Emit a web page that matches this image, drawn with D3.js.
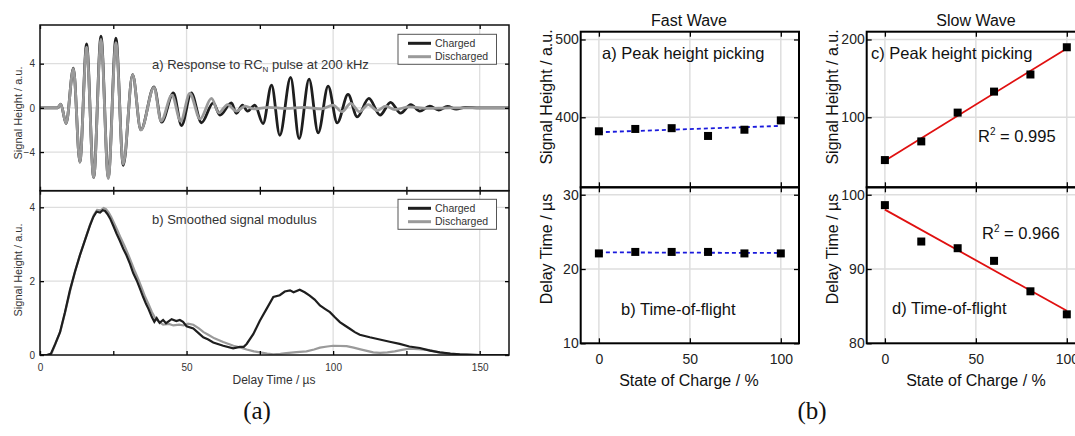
<!DOCTYPE html>
<html>
<head>
<meta charset="utf-8">
<script src="https://cdn.jsdelivr.net/npm/d3@7"></script>
<style>
  body { margin: 0; background: #fff; }
  svg { display: block; font-family: "Liberation Sans", Arial, sans-serif; }
</style>
</head>
<body>
<svg id="chart" width="1075" height="436"></svg>
<script>
// ---- data ----
// (a) top: raw response, extrema [time µs, signal]
const chargedWave = [[0,0],[6,0],[7.1,0.34],[8.9,-1.42],[11.4,3.6],[13.6,-4.9],[15.9,5.8],[18.3,-6.3],[20.8,6.5],[23.3,-6.3],[25.9,6.3],[28.4,-5.2],[31.6,3.0],[34.4,-2.0],[38.9,1.9],[41.5,-1.3],[45.5,1.35],[48.3,-1.6],[51.6,1.35],[55.1,-1.35],[59.1,0.45],[61.4,-0.65],[65.3,0.45],[67.0,-0.5],[69.1,0.25],[70.8,-0.3],[73.3,0.25],[76.1,-1.42],[79.0,2.06],[81.8,-2.48],[85.5,2.76],[88.4,-2.78],[91.8,2.6],[94.9,-2.27],[98.3,1.97],[101.4,-1.36],[105.1,1.22],[108.2,-0.82],[112.2,0.85],[116.0,-0.66],[119.6,0.5],[123.0,-0.48],[126.5,0.3],[129.6,-0.3],[133,0.15],[136,-0.2],[139,0.12],[142,-0.12],[145,0.05],[150,0],[160,0]];
const dischargedWave = [[0,0],[6,0],[7.1,0.34],[8.9,-1.42],[11.4,3.55],[13.6,-4.9],[15.9,5.5],[18.3,-6.3],[20.8,6.2],[23.3,-6.4],[25.9,5.9],[28.4,-5.1],[31.6,3.0],[34.4,-2.0],[38.9,1.85],[41.3,-1.2],[45.0,1.15],[48.0,-1.2],[51.1,1.3],[54.6,-1.0],[58.5,0.85],[61.0,-0.45],[64.0,0.3],[67.0,-0.3],[70.0,0.15],[73.0,-0.1],[78,0.05],[84,-0.05],[90,0.05],[96,-0.1],[100,0.25],[103,-0.35],[106,0.4],[109,-0.35],[112,0.3],[115,-0.25],[118,0.15],[121,-0.15],[126,0.08],[132,-0.05],[140,0],[160,0]];

// (a) bottom: smoothed modulus [time µs, signal]
const chargedEnvelope = [[0,0],[2.3,0],[3.7,0.03],[5.2,0.3],[6.8,0.61],[8.5,1.15],[10.2,1.75],[11.9,2.25],[13.6,2.7],[15.9,3.24],[17,3.5],[18.2,3.74],[19.3,3.88],[20.5,3.86],[21.4,3.92],[22.2,3.9],[23.0,3.82],[23.9,3.7],[25,3.5],[26.1,3.29],[27.2,3.1],[28.4,2.88],[29.5,2.7],[30.7,2.47],[31.8,2.22],[33.0,2.02],[34.1,1.8],[35.2,1.57],[36.2,1.38],[37.0,1.25],[38.2,1.02],[39.0,0.9],[39.8,1.0],[40.8,0.87],[42.0,0.95],[43.0,0.86],[44.9,0.97],[46.5,0.92],[47.7,0.95],[48.8,0.9],[50,0.78],[52.3,0.72],[54,0.6],[55.7,0.48],[57.4,0.42],[59.1,0.34],[62.5,0.25],[65.9,0.18],[68.2,0.22],[69.5,0.22],[70.5,0.3],[72.8,0.57],[75,0.93],[77.3,1.25],[79.6,1.57],[81.8,1.62],[83.5,1.72],[85.3,1.75],[86.5,1.7],[88.6,1.77],[90.3,1.7],[92.0,1.61],[93.7,1.5],[95.5,1.34],[97.2,1.25],[98.9,1.16],[100.6,1.02],[102.3,0.89],[104,0.8],[105.7,0.71],[107.4,0.62],[109.1,0.55],[112.5,0.48],[115.9,0.42],[119.3,0.36],[122.7,0.3],[126,0.23],[129.6,0.19],[133,0.12],[136.4,0.07],[140,0.04],[143.2,0.02],[150,0],[160,0]];
const dischargedEnvelope = [[0,0],[2.6,0],[4,0.05],[5.4,0.33],[7,0.65],[8.7,1.2],[10.4,1.78],[12.1,2.3],[13.8,2.75],[16.1,3.3],[17.2,3.56],[18.4,3.8],[19.5,3.93],[20.7,3.92],[21.7,3.98],[22.5,3.95],[23.4,3.86],[24.3,3.74],[25.4,3.55],[26.5,3.36],[27.6,3.16],[28.8,2.96],[30,2.74],[31.2,2.5],[32.4,2.26],[33.6,2.04],[34.8,1.8],[35.9,1.57],[37,1.38],[38.2,1.16],[39.3,1.0],[40.5,0.9],[42,0.82],[44,0.84],[45.5,0.8],[47.5,0.82],[49,0.8],[50.5,0.85],[52.3,0.82],[54.2,0.72],[55.8,0.62],[57.4,0.55],[59.5,0.45],[62.5,0.35],[66,0.25],[68.5,0.2],[70.5,0.15],[73,0.1],[75,0.07],[77.5,0.04],[79.6,0.02],[82,0.03],[84,0.05],[87.5,0.08],[90.9,0.1],[93.5,0.15],[95.5,0.2],[98,0.23],[100,0.25],[104.6,0.24],[107,0.2],[109,0.16],[111.5,0.11],[113.7,0.07],[116,0.06],[118.5,0.07],[121,0.1],[123.5,0.14],[126,0.17],[129,0.16],[133,0.13],[136,0.07],[140,0.03],[143,0.02],[150,0],[160,0]];

// (b): state of charge vs picked values
const soc = [0, 20, 40, 60, 80, 100];
const fastHeight = [382, 385, 386, 376, 384, 396];
const fastDelay = [22.1, 22.3, 22.3, 22.3, 22.1, 22.1];
const slowHeight = [45, 69, 106, 133, 155, 190];
const slowDelay = [98.6, 93.7, 92.8, 91.1, 87.0, 83.9];

// ticks
const timeTicks = [0, 25, 50, 75, 100, 125, 150];
const waveTicks = [-4, 0, 4];
const envTicks = [0, 2, 4];
const socTicks = [0, 50, 100];
const fastHeightTicks = [400, 500];
const fastDelayTicks = [10, 20, 30];
const slowHeightTicks = [100, 200];
const slowDelayTicks = [80, 90, 100];

const svg = d3.select("#chart");
const gridColor = "#dedede";
const intFormat = d3.format("d");

function styleAxis(g, size, color) {
  g.attr("font-family", null).attr("font-size", size);
  g.select(".domain").remove();
  g.selectAll(".tick line").attr("stroke", "#000").attr("stroke-width", 1.3);
  g.selectAll(".tick text").attr("fill", color);
  return g;
}

function linearFit(xs, ys) {
  const mx = d3.mean(xs), my = d3.mean(ys);
  const sxy = d3.sum(xs, (v, i) => (v - mx) * (ys[i] - my));
  const sxx = d3.sum(xs, (v) => (v - mx) * (v - mx));
  const b = sxy / sxx;
  return (v) => my + b * (v - mx);
}

// ================= (a) waveform panels =================
const xTime = d3.scaleLinear().domain([0, 160]).range([40, 509]);
const yWave = d3.scaleLinear().domain([-7.5, 7.5]).range([190.7, 25]);
const yEnv = d3.scaleLinear().domain([0, 4.45]).range([355, 190.7]);

function wavePanel(y, yTicks, top, bottom, id) {
  const g = svg.append("g");
  g.selectAll("line.gx").data([50, 100, 150]).join("line")
    .attr("x1", xTime).attr("x2", xTime).attr("y1", top).attr("y2", bottom)
    .attr("stroke", gridColor).attr("stroke-width", 1.3);
  g.selectAll("line.gy").data(yTicks.filter((v) => y(v) > top + 2 && y(v) < bottom - 2)).join("line")
    .attr("x1", 40).attr("x2", 509).attr("y1", y).attr("y2", y)
    .attr("stroke", gridColor).attr("stroke-width", 1.3);
  svg.append("clipPath").attr("id", id).append("rect")
    .attr("x", 40).attr("y", top).attr("width", 469).attr("height", bottom - top);
  return g;
}

const topG = wavePanel(yWave, waveTicks, 25, 190.7, "clipTop");
const botG = wavePanel(yEnv, envTicks, 190.7, 355, "clipBot");

const waveLine = d3.line().x((d) => xTime(d[0])).y((d) => yWave(d[1])).curve(d3.curveMonotoneX);
const envLine = d3.line().x((d) => xTime(d[0])).y((d) => yEnv(d[1]));

topG.append("path").datum(chargedWave).attr("d", waveLine).attr("clip-path", "url(#clipTop)")
  .attr("fill", "none").attr("stroke", "#1e1e1e").attr("stroke-width", 2.8);
topG.append("path").datum(dischargedWave).attr("d", waveLine).attr("clip-path", "url(#clipTop)")
  .attr("fill", "none").attr("stroke", "#9a9a9a").attr("stroke-width", 2.8);
botG.append("path").datum(dischargedEnvelope).attr("d", envLine).attr("clip-path", "url(#clipBot)")
  .attr("fill", "none").attr("stroke", "#9a9a9a").attr("stroke-width", 2.2);
botG.append("path").datum(chargedEnvelope).attr("d", envLine).attr("clip-path", "url(#clipBot)")
  .attr("fill", "none").attr("stroke", "#1e1e1e").attr("stroke-width", 2.2);

// axes with inward ticks
[[25, 190.7, yWave, waveTicks], [190.7, 355, yEnv, envTicks]].forEach(([top, bottom, y, yt], k) => {
  styleAxis(svg.append("g").attr("transform", `translate(0,${top})`)
    .call(d3.axisTop(xTime).tickValues(timeTicks).tickSize(-4).tickFormat("")), 10, "#333");
  styleAxis(svg.append("g").attr("transform", `translate(0,${bottom})`)
    .call(d3.axisBottom(xTime).tickValues(timeTicks).tickSize(-4).tickPadding(9)
      .tickFormat((d) => (k === 1 && d % 50 === 0 ? d : ""))), 10, "#333");
  styleAxis(svg.append("g").attr("transform", "translate(40,0)")
    .call(d3.axisLeft(y).tickValues(yt).tickSize(-4).tickPadding(5).tickFormat(intFormat)), 10, "#333");
  styleAxis(svg.append("g").attr("transform", "translate(509,0)")
    .call(d3.axisRight(y).tickValues(yt).tickSize(-4).tickFormat("")), 10, "#333");
  svg.append("rect").attr("x", 40).attr("y", top).attr("width", 469).attr("height", bottom - top)
    .attr("fill", "none").attr("stroke", "#111").attr("stroke-width", 1.5);
});

// annotations and legends
const annA = svg.append("text").attr("x", 152).attr("y", 68.5).attr("font-size", 13).attr("fill", "#333");
annA.append("tspan").text("a) Response to RC");
annA.append("tspan").attr("font-size", 8).attr("dy", 3).text("N");
annA.append("tspan").attr("dy", -3).text(" pulse at 200 kHz");
svg.append("text").attr("x", 152).attr("y", 223.5).attr("font-size", 13).attr("fill", "#333")
  .text("b) Smoothed signal modulus");

const series = [["Charged", "#1e1e1e"], ["Discharged", "#9a9a9a"]];
[34.3, 199.3].forEach((ly) => {
  const lg = svg.append("g").attr("transform", `translate(398,${ly})`);
  lg.append("rect").attr("width", 98.5).attr("height", 30)
    .attr("fill", "#fff").attr("stroke", "#555").attr("stroke-width", 1);
  series.forEach(([name, color], i) => {
    lg.append("line").attr("x1", 10).attr("x2", 33).attr("y1", 9 + i * 13.4).attr("y2", 9 + i * 13.4)
      .attr("stroke", color).attr("stroke-width", 3);
    lg.append("text").attr("x", 37).attr("y", 9 + i * 13.4).attr("dy", "0.35em")
      .attr("font-size", 10.5).attr("fill", "#333").text(name);
  });
});

svg.append("text").attr("transform", "translate(18,113) rotate(-90)").attr("text-anchor", "middle")
  .attr("dy", "0.35em").attr("font-size", 11).attr("fill", "#333").text("Signal Height / a.u.");
svg.append("text").attr("transform", "translate(18,270) rotate(-90)").attr("text-anchor", "middle")
  .attr("dy", "0.35em").attr("font-size", 11).attr("fill", "#333").text("Signal Height / a.u.");
svg.append("text").attr("x", 274).attr("y", 384).attr("text-anchor", "middle")
  .attr("font-size", 12).attr("fill", "#333").text("Delay Time / µs");

// ================= (b) state of charge panels =================
const panelTop = 31.7, panelMid = 187.3, panelBot = 343.3;
const xFast = d3.scaleLinear().domain([-10, 110]).range([580.7, 799]);
const xSlow = d3.scaleLinear().domain([-10, 110]).range([866.7, 1085]);

function socPanel(x, domain, top, bottom, yTicks, values, fitStyle) {
  const y = d3.scaleLinear().domain(domain).range([bottom, top]);
  const [x0, x1] = x.range();
  const g = svg.append("g");
  g.selectAll("line.gx").data(socTicks).join("line")
    .attr("x1", x).attr("x2", x).attr("y1", top).attr("y2", bottom)
    .attr("stroke", gridColor).attr("stroke-width", 1.5);
  g.selectAll("line.gy").data(yTicks.filter((v) => y(v) > top + 3 && y(v) < bottom - 3)).join("line")
    .attr("x1", x0).attr("x2", x1).attr("y1", y).attr("y2", y)
    .attr("stroke", gridColor).attr("stroke-width", 1.5);

  const fit = linearFit(soc, values);
  g.append("line").attr("x1", x(0)).attr("x2", x(100)).attr("y1", y(fit(0))).attr("y2", y(fit(100)))
    .attr("stroke", fitStyle.color).attr("stroke-width", fitStyle.width)
    .attr("stroke-dasharray", fitStyle.dash);
  g.selectAll("rect.m").data(values).join("rect")
    .attr("x", (d, i) => x(soc[i]) - 4).attr("y", (d) => y(d) - 4)
    .attr("width", 8).attr("height", 8).attr("fill", "#000");

  const showX = bottom === panelBot;
  styleAxis(svg.append("g").attr("transform", `translate(0,${top})`)
    .call(d3.axisTop(x).tickValues(socTicks).tickSize(-5).tickFormat("")), 14, "#222");
  styleAxis(svg.append("g").attr("transform", `translate(0,${bottom})`)
    .call(d3.axisBottom(x).tickValues(socTicks).tickSize(-5).tickPadding(11)
      .tickFormat(showX ? intFormat : () => "")), 14, "#222");
  styleAxis(svg.append("g").attr("transform", `translate(${x0},0)`)
    .call(d3.axisLeft(y).tickValues(yTicks).tickSize(-5).tickPadding(2).tickFormat(intFormat)), 14, "#222");
  styleAxis(svg.append("g").attr("transform", `translate(${x1},0)`)
    .call(d3.axisRight(y).tickValues(yTicks).tickSize(-5).tickFormat("")), 14, "#222");
  svg.append("rect").attr("x", x0).attr("y", top).attr("width", x1 - x0).attr("height", bottom - top)
    .attr("fill", "none").attr("stroke", "#000").attr("stroke-width", 2);
  return y;
}

const blueDash = { color: "#1a1adc", width: 1.8, dash: "4,3" };
const redLine = { color: "#e01010", width: 1.8, dash: null };
socPanel(xFast, [310, 510], panelTop, panelMid, fastHeightTicks, fastHeight, blueDash);
socPanel(xFast, [10, 31], panelMid, panelBot, fastDelayTicks, fastDelay, blueDash);
socPanel(xSlow, [10, 210], panelTop, panelMid, slowHeightTicks, slowHeight, redLine);
socPanel(xSlow, [80, 101], panelMid, panelBot, slowDelayTicks, slowDelay, redLine);

// titles, labels, annotations
const rightText = [
  ["Fast Wave", 689, 26, "middle", 16],
  ["Slow Wave", 976, 26, "middle", 16],
  ["a) Peak height picking", 602, 59, "start", 16.5],
  ["b) Time-of-flight", 621, 315, "start", 16.5],
  ["c) Peak height picking", 871, 59, "start", 16.5],
  ["d) Time-of-flight", 892, 314, "start", 16.5],
  ["State of Charge / %", 689, 386, "middle", 16],
  ["State of Charge / %", 976, 386, "middle", 16],
];
rightText.forEach(([t, x, y, anchor, size]) => {
  svg.append("text").attr("x", x).attr("y", y).attr("text-anchor", anchor)
    .attr("font-size", size).attr("fill", "#111").text(t);
});

[["0.995", 978, 142], ["0.966", 982, 239]].forEach(([r, x, y]) => {
  const t = svg.append("text").attr("x", x).attr("y", y).attr("font-size", 16.5).attr("fill", "#111");
  t.append("tspan").text("R");
  t.append("tspan").attr("font-size", 10).attr("dy", -7).text("2");
  t.append("tspan").attr("dy", 7).text(" = " + r);
});

[[546, 97, "Signal Height / a.u."], [546, 249, "Delay Time / µs"],
 [832, 97, "Signal Height / a.u."], [832, 249, "Delay Time / µs"]].forEach(([x, y, t]) => {
  svg.append("text").attr("transform", `translate(${x},${y}) rotate(-90)`).attr("text-anchor", "middle")
    .attr("dy", "0.35em").attr("font-size", 16).attr("fill", "#111").text(t);
});

// sub-figure captions
[["(a)", 257], ["(b)", 812]].forEach(([t, x]) => {
  svg.append("text").attr("x", x).attr("y", 419).attr("text-anchor", "middle")
    .attr("font-family", "'Liberation Serif', serif").attr("font-size", 25).attr("fill", "#111").text(t);
});
</script>
</body>
</html>
